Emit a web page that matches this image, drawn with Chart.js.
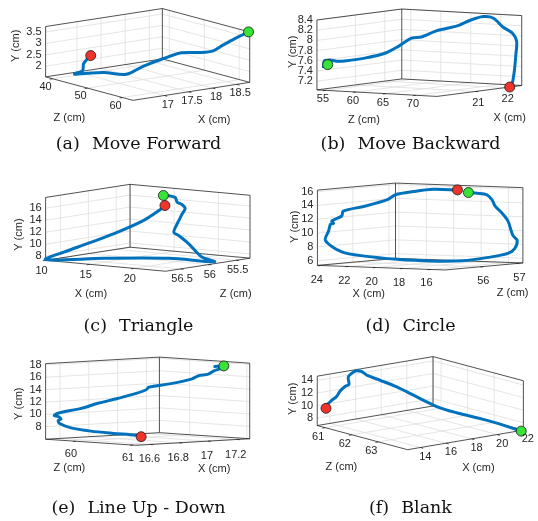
<!DOCTYPE html>
<html lang="en">
<head>
  <meta charset="UTF-8">
  <title>Trajetorias 3D</title>
  <style>
    body { margin: 0; background: #fff; }
    #quadro { position: relative; width: 538px; height: 521px; }
    #grafico { position: absolute; left: 0; top: 0; }
    .legenda {
      position: absolute;
      width: 269px;
      text-align: center;
      font-family: "DejaVu Serif", serif;
      font-size: 17.5px;
      line-height: 20px;
      color: #111;
      white-space: nowrap;
    }
    .legenda span { margin-right: 12px; }
  </style>
</head>
<body>
  <div id="quadro">
    <canvas id="grafico" width="538" height="521"></canvas>
    <div class="legenda" style="left:4px;top:133px"><span>(a)</span>Move Forward</div>
    <div class="legenda" style="left:276px;top:133px"><span>(b)</span>Move Backward</div>
    <div class="legenda" style="left:4px;top:315px"><span>(c)</span>Triangle</div>
    <div class="legenda" style="left:276px;top:315px"><span>(d)</span>Circle</div>
    <div class="legenda" style="left:4px;top:497px"><span>(e)</span>Line Up - Down</div>
    <div class="legenda" style="left:276px;top:497px"><span>(f)</span>Blank</div>
  </div>

  <script src="https://cdn.jsdelivr.net/npm/chart.js"></script>
  <script>
    // (a) Move Forward - valores em cm
    const frenteX = [17.14, 16.97, 16.93, 16.73, 16.92, 17.12, 17.37, 17.50, 17.68, 17.94, 18.20, 18.34, 18.43, 18.59, 18.76];
    const frenteY = [2.29, 2.00, 1.73, 1.65, 1.67, 1.72, 1.68, 2.11, 2.50, 2.77, 2.78, 2.87, 3.15, 3.47, 3.74];
    const frenteZ = [40, 40.3, 40.6, 41, 42, 44, 47, 50, 53, 55, 57, 58.5, 60, 61.5, 62.8];
    const frenteVerde = [18.76, 3.74, 62.8];
    const frenteVermelho = [17.14, 2.29, 40];
    const frenteFaixaX = [16.35, 18.77], frenteFaixaY = [1.53, 3.74], frenteFaixaZ = [38, 63];
    const frenteTicksX = [17, 17.5, 18, 18.5], frenteTicksY = [2, 2.5, 3, 3.5], frenteTicksZ = [40, 50, 60];

    // (b) Move Backward
    const trasX = [19.71, 19.71, 19.78, 20.00, 20.12, 20.44, 20.70, 20.83, 20.97, 21.10, 21.35, 21.71, 21.95, 22.19, 22.32, 22.45, 22.58, 22.55, 22.44, 22.37, 22.27, 22.17];
    const trasY = [7.46, 7.60, 7.62, 7.58, 7.58, 7.63, 7.72, 7.85, 8.01, 8.03, 8.15, 8.22, 8.32, 8.38, 8.35, 8.17, 8.04, 7.89, 7.64, 7.33, 7.08, 7.03];
    const trasZ = [54.5, 54.6, 55.2, 55.5, 56, 58, 60, 61.5, 63, 64, 65.5, 67, 68, 69, 70, 71, 72, 72.8, 73.2, 73.3, 73.4, 73.5];
    const trasVerde = [19.75, 7.53, 55];
    const trasVermelho = [22.17, 7.03, 73.5];
    const trasFaixaX = [19.69, 22.58], trasFaixaY = [7.03, 8.4], trasFaixaZ = [53.5, 73.5];
    const trasTicksX = [21, 22], trasTicksY = [7.2, 7.4, 7.6, 7.8, 8, 8.2, 8.4], trasTicksZ = [55, 60, 65, 70];

    // (c) Triangle
    const trianguloX = [18.05, 17.70, 16.48, 14.10, 12.40, 10.76, 10.0, 15.82, 21.33, 23.35, 21.88, 20.09, 18.85, 18.30, 18.66, 18.85, 19.22, 19.58, 19.22, 18.66, 18.47, 17.05, 16.61];
    const trianguloY = [16.28, 15.49, 13.72, 11.44, 9.87, 8.49, 7.43, 8.24, 8.55, 7.54, 8.16, 10.04, 11.20, 11.66, 13.09, 13.65, 14.80, 15.82, 16.43, 16.78, 17.52, 17.54, 17.48];
    const trianguloZ = [55.9, 55.95, 56.05, 56.2, 56.4, 56.55, 56.77, 56.65, 56.35, 55.85, 55.85, 55.8, 55.78, 55.78, 55.78, 55.78, 55.78, 55.78, 55.78, 55.78, 55.78, 55.7, 55.7];
    const trianguloVerde = [16.61, 17.48, 55.7];
    const trianguloVermelho = [18.05, 16.28, 55.9];
    const trianguloFaixaX = [10, 23.6], trianguloFaixaY = [7.3, 17.8], trianguloFaixaZ = [56.77, 55.25];
    const trianguloTicksX = [10, 15, 20], trianguloTicksY = [8, 10, 12, 14, 16], trianguloTicksZ = [55.5, 56, 56.5];

    // (d) Circle
    const circuloX = [17.24, 16.82, 16.36, 16.13, 15.97, 15.66, 15.36, 15.20, 15.12, 14.92, 15.05, 15.36, 16.28, 17.52, 19.06, 20.61, 22.15, 23.24, 24.01, 23.85, 23.77, 23.62, 23.70, 23.24, 23.16, 22.15, 21.07, 20.69, 19.83, 18.91, 17.75];
    const circuloY = [15.64, 15.53, 15.30, 14.58, 13.63, 12.68, 11.50, 10.08, 9.37, 8.66, 7.48, 6.79, 6.24, 5.79, 5.79, 6.07, 6.57, 7.21, 8.88, 10.29, 11.24, 11.32, 11.70, 12.40, 13.11, 13.79, 14.71, 15.41, 15.85, 16.15, 16.04];
    const circuloZ = [56.54, 56.62, 56.72, 56.77, 56.80, 56.86, 56.92, 56.95, 56.97, 57.01, 56.99, 56.92, 56.73, 56.48, 56.16, 55.85, 55.53, 55.31, 55.15, 55.18, 55.20, 55.23, 55.21, 55.31, 55.32, 55.53, 55.75, 55.83, 56.00, 56.19, 56.43];
    const circuloVerde = [17.24, 15.64, 56.54];
    const circuloVermelho = [17.75, 16.04, 56.43];
    const circuloFaixaX = [24.25, 14.95], circuloFaixaY = [5.32, 16.21], circuloFaixaZ = [55.02, 57.18];
    const circuloTicksX = [16, 18, 20, 22, 24], circuloTicksY = [6, 8, 10, 12, 14, 16], circuloTicksZ = [56, 57];

    // (e) Line Up - Down
    const linhaX = [16.556, 16.55, 16.53, 16.52, 16.51, 16.51, 16.50, 16.50, 16.50, 16.50, 16.51, 16.60, 16.66, 16.74, 16.81, 16.85, 16.86, 16.94, 17.02, 17.05, 17.09, 17.11, 17.14, 17.15, 17.11];
    const linhaY = [7.28, 7.47, 7.59, 7.74, 8.08, 8.65, 9.18, 9.42, 9.81, 9.92, 10.30, 11.08, 11.86, 12.65, 13.43, 14.06, 14.48, 15.00, 15.78, 16.31, 16.56, 17.10, 17.50, 17.88, 17.77];
    const linhaZ = [61.0, 60.93, 60.58, 60.21, 59.89, 59.69, 59.69, 59.74, 59.69, 59.62, 59.66, 59.84, 59.97, 60.12, 60.26, 60.35, 60.37, 60.53, 60.71, 60.76, 60.83, 60.88, 60.93, 60.95, 60.87];
    const linhaVerde = [17.15, 17.88, 60.95];
    const linhaVermelho = [16.556, 7.28, 61.0];
    const linhaFaixaX = [16.5, 17.29], linhaFaixaY = [6, 18.2], linhaFaixaZ = [59.47, 61.05];
    const linhaTicksX = [16.6, 16.8, 17, 17.2], linhaTicksY = [8, 10, 12, 14, 16, 18], linhaTicksZ = [60, 61];

    // (f) Blank
    const brancoX = [13.03, 13.33, 13.84, 14.22, 14.48, 14.90, 15.23, 15.17, 15.45, 15.85, 16.03, 16.27, 16.75, 17.34, 17.94, 18.66, 19.13, 19.73, 20.45, 21.16, 21.88];
    const brancoY = [9.73, 10.0, 10.75, 11.25, 11.98, 12.54, 12.73, 13.89, 14.40, 14.67, 14.61, 14.01, 13.36, 12.48, 11.36, 10.00, 9.35, 8.83, 8.25, 7.58, 6.73];
    const brancoZ = [60.85, 60.85, 60.85, 60.85, 60.85, 60.83, 60.82, 60.82, 60.81, 60.8, 60.90, 61.03, 61.29, 61.62, 61.94, 62.34, 62.60, 62.92, 63.32, 63.71, 64.1];
    const brancoVerde = [21.88, 6.73, 64.1];
    const brancoVermelho = [13.27, 9.70, 60.9];
    const brancoFaixaX = [13, 22.05], brancoFaixaY = [6.83, 14.68], brancoFaixaZ = [60.7, 64.1];
    const brancoTicksX = [14, 16, 18, 20, 22], brancoTicksY = [8, 10, 12, 14], brancoTicksZ = [61, 62, 63];

    // geometria de cada caixa: canto esquerdo do piso, aresta A (esq->frente), aresta B (frente->dir), altura
    const paineis = [
      { A: 'z', B: 'x', faixas: { x: frenteFaixaX, y: frenteFaixaY, z: frenteFaixaZ },
        ticks: { x: frenteTicksX, y: frenteTicksY, z: frenteTicksZ },
        x: frenteX, y: frenteY, z: frenteZ, verde: frenteVerde, vermelho: frenteVermelho,
        origem: [40.7, 72.7], vA: [89.3, 24], vB: [119.3, -18.4], alt: 51.5,
        desA: [-7, 8], desB: [3.5, 9], rotA: [65, 115], rotB: [213, 117], rotY: [10, 41] },
      { A: 'z', B: 'x', faixas: { x: trasFaixaX, y: trasFaixaY, z: trasFaixaZ },
        ticks: { x: trasTicksX, y: trasTicksY, z: trasTicksZ },
        x: trasX, y: trasY, z: trasZ, verde: trasVerde, vermelho: trasVermelho,
        origem: [318, 86], vA: [122.6, 6.7], vB: [86.7, -11.2], alt: 71.5,
        desA: [-3, 9], desB: [3, 11], rotA: [366, 117], rotB: [515, 115], rotY: [293, 47] },
      { A: 'x', B: 'z', faixas: { x: trianguloFaixaX, y: trianguloFaixaY, z: trianguloFaixaZ },
        ticks: { x: trianguloTicksX, y: trianguloTicksY, z: trianguloTicksZ },
        x: trianguloX, y: trianguloY, z: trianguloZ, verde: trianguloVerde, vermelho: trianguloVermelho,
        origem: [40.7, 260.3], vA: [122.6, 11.2], vB: [86.3, -13.4], alt: 64.3,
        desA: [-4, 11], desB: [1.5, 10], rotA: [87, 295], rotB: [235, 295], rotY: [13, 234] },
      { A: 'x', B: 'z', faixas: { x: circuloFaixaX, y: circuloFaixaY, z: circuloFaixaZ },
        ticks: { x: circuloTicksX, y: circuloTicksY, z: circuloTicksZ },
        x: circuloX, y: circuloY, z: circuloZ, verde: circuloVerde, vermelho: circuloVermelho,
        origem: [318.5, 265.5], vA: [130.2, 4.7], vB: [79.8, -7.2], alt: 77,
        desA: [-4, 14], desB: [3, 14], rotA: [371, 295], rotB: [518, 294], rotY: [295.5, 226] },
      { A: 'z', B: 'x', faixas: { x: linhaFaixaX, y: linhaFaixaY, z: linhaFaixaZ },
        ticks: { x: linhaTicksX, y: linhaTicksY, z: linhaTicksZ },
        x: linhaX, y: linhaY, z: linhaZ, verde: linhaVerde, vermelho: linhaVermelho,
        origem: [40.7, 443.3], vA: [92.3, 6.2], vB: [116.3, -6.7], alt: 77.3,
        desA: [-5, 13], desB: [-1, 15], rotA: [65, 473], rotB: [213, 474], rotY: [13, 407] },
      { A: 'z', B: 'x', faixas: { x: brancoFaixaX, y: brancoFaixaY, z: brancoFaixaZ },
        ticks: { x: brancoTicksX, y: brancoTicksY, z: brancoTicksZ },
        x: brancoX, y: brancoY, z: brancoZ, verde: brancoVerde, vermelho: brancoVermelho,
        origem: [318.3, 429.3], vA: [92.3, 24.7], vB: [118.4, -20], alt: 50.5,
        desA: [-7, 9.5], desB: [5, 9], rotA: [343, 472], rotB: [483, 473], rotY: [293, 402] }
    ];

    function frac(v, f) { return (v - f[0]) / (f[1] - f[0]); }

    // a, b, h em fracao da caixa -> coordenada da pagina
    function ponto(p, a, b, h) {
      return {
        x: p.origem[0] + a * p.vA[0] + b * p.vB[0],
        y: p.origem[1] + a * p.vA[1] + b * p.vB[1] - h * p.alt
      };
    }

    function projetar(p, x, y, z) {
      const v = { x: x, y: y, z: z };
      return ponto(p, frac(v[p.A], p.faixas[p.A]), frac(v[p.B], p.faixas[p.B]), frac(y, p.faixas.y));
    }

    const datasets = [];
    paineis.forEach(p => {
      datasets.push({
        data: p.x.map((x, i) => projetar(p, x, p.y[i], p.z[i])),
        showLine: true, borderColor: '#0072BD', borderWidth: 3,
        pointRadius: 0, tension: 0.3, order: 2, clip: false
      });
      datasets.push({
        data: [projetar(p, p.vermelho[0], p.vermelho[1], p.vermelho[2])],
        pointRadius: 5, pointBackgroundColor: '#f0342c', pointBorderColor: '#1a1a1a',
        pointBorderWidth: 0.8, order: 1, clip: false
      });
      datasets.push({
        data: [projetar(p, p.verde[0], p.verde[1], p.verde[2])],
        pointRadius: 5, pointBackgroundColor: '#36e336', pointBorderColor: '#1a1a1a',
        pointBorderWidth: 0.8, order: 1, clip: false
      });
    });

    const caixa3d = {
      id: 'caixa3d',
      beforeDatasetsDraw(chart) {
        const ctx = chart.ctx;
        const sx = chart.scales.x, sy = chart.scales.y;
        const linha = (pts, cor, larg) => {
          ctx.beginPath();
          pts.forEach((q, i) => {
            const X = sx.getPixelForValue(q.x), Y = sy.getPixelForValue(q.y);
            if (i) ctx.lineTo(X, Y); else ctx.moveTo(X, Y);
          });
          ctx.strokeStyle = cor;
          ctx.lineWidth = larg;
          ctx.stroke();
        };
        ctx.save();
        paineis.forEach(p => {
          const grade = '#dedede';
          p.ticks[p.A].forEach(t => {
            const a = frac(t, p.faixas[p.A]);
            linha([ponto(p, a, 0, 0), ponto(p, a, 1, 0), ponto(p, a, 1, 1)], grade, 0.8);
          });
          p.ticks[p.B].forEach(t => {
            const b = frac(t, p.faixas[p.B]);
            linha([ponto(p, 1, b, 0), ponto(p, 0, b, 0), ponto(p, 0, b, 1)], grade, 0.8);
          });
          p.ticks.y.forEach(t => {
            const h = frac(t, p.faixas.y);
            linha([ponto(p, 0, 0, h), ponto(p, 0, 1, h), ponto(p, 1, 1, h)], grade, 0.8);
          });

          const borda = '#262626';
          linha([ponto(p, 0, 0, 0), ponto(p, 1, 0, 0), ponto(p, 1, 1, 0), ponto(p, 0, 1, 0), ponto(p, 0, 0, 0)], borda, 0.8);
          linha([ponto(p, 0, 0, 0), ponto(p, 0, 0, 1), ponto(p, 0, 1, 1), ponto(p, 1, 1, 1), ponto(p, 1, 1, 0)], borda, 0.8);
          linha([ponto(p, 0, 1, 0), ponto(p, 0, 1, 1)], borda, 0.8);

          // tracinhos dos ticks nas arestas da frente
          const nA = Math.hypot(p.vA[0], p.vA[1]), nB = Math.hypot(p.vB[0], p.vB[1]);
          p.ticks[p.A].forEach(t => {
            const q = ponto(p, frac(t, p.faixas[p.A]), 0, 0);
            linha([q, { x: q.x - 3 * p.vB[0] / nB, y: q.y - 3 * p.vB[1] / nB }], borda, 0.8);
          });
          p.ticks[p.B].forEach(t => {
            const q = ponto(p, 1, frac(t, p.faixas[p.B]), 0);
            linha([q, { x: q.x + 3 * p.vA[0] / nA, y: q.y + 3 * p.vA[1] / nA }], borda, 0.8);
          });
        });
        ctx.restore();
      },
      afterDatasetsDraw(chart) {
        const ctx = chart.ctx;
        const sx = chart.scales.x, sy = chart.scales.y;
        const texto = (s, q, dx, dy, alinh) => {
          ctx.textAlign = alinh;
          ctx.fillText(s, sx.getPixelForValue(q.x) + dx, sy.getPixelForValue(q.y) + dy);
        };
        ctx.save();
        ctx.fillStyle = '#262626';
        ctx.textBaseline = 'middle';
        paineis.forEach(p => {
          ctx.font = '11px "Liberation Sans", Arial, sans-serif';
          p.ticks[p.A].forEach(t => {
            texto(String(t), ponto(p, frac(t, p.faixas[p.A]), 0, 0), p.desA[0], p.desA[1], 'center');
          });
          p.ticks[p.B].forEach(t => {
            texto(String(t), ponto(p, 1, frac(t, p.faixas[p.B]), 0), p.desB[0], p.desB[1], 'center');
          });
          p.ticks.y.forEach(t => {
            texto(String(t), ponto(p, 0, 0, frac(t, p.faixas.y)), -4, 0, 'right');
          });

          ctx.font = '11px "Liberation Sans", Arial, sans-serif';
          texto(p.A.toUpperCase() + ' (cm)', { x: p.rotA[0], y: p.rotA[1] }, 0, 0, 'center');
          texto(p.B.toUpperCase() + ' (cm)', { x: p.rotB[0], y: p.rotB[1] }, 0, 0, 'center');
          ctx.save();
          ctx.translate(sx.getPixelForValue(p.rotY[0]), sy.getPixelForValue(p.rotY[1]));
          ctx.rotate(-Math.PI / 2);
          ctx.textAlign = 'center';
          ctx.fillText('Y (cm)', 0, 0);
          ctx.restore();
        });
        ctx.restore();
      }
    };

    window.onload = function() {
      const ctx = document.getElementById('grafico').getContext('2d');
      new Chart(ctx, {
        type: 'scatter',
        data: { datasets: datasets },
        options: {
          responsive: false,
          animation: false,
          events: [],
          layout: { padding: 0 },
          plugins: { legend: { display: false }, tooltip: { enabled: false } },
          scales: {
            x: { type: 'linear', min: 0, max: 538, display: false },
            y: { type: 'linear', min: 0, max: 521, reverse: true, display: false }
          }
        },
        plugins: [caixa3d]
      });
    };
  </script>
</body>
</html>
